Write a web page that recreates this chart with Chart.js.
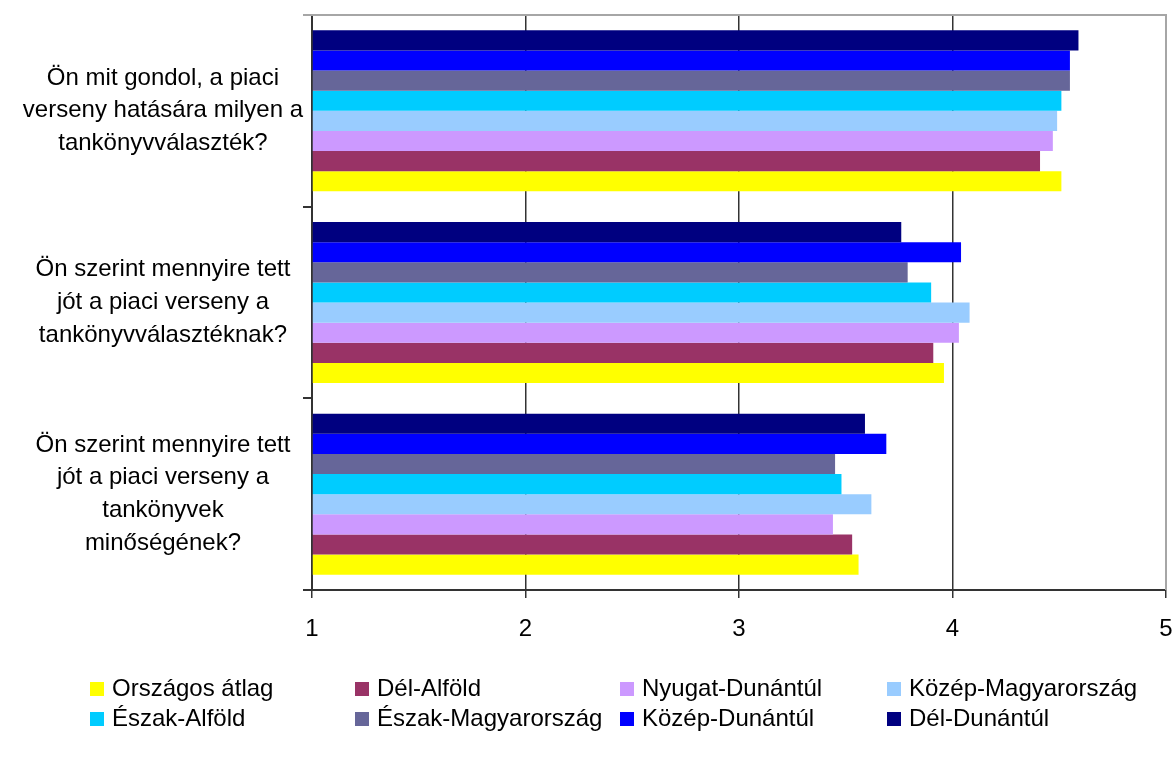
<!DOCTYPE html>
<html>
<head>
<meta charset="utf-8">
<script src="https://cdn.jsdelivr.net/npm/chart.js@4.4.1/dist/chart.umd.min.js"></script>
<style>
  html, body { margin: 0; padding: 0; background: #ffffff; }
  #wrap { position: relative; width: 1176px; height: 762px; overflow: hidden; }
  #chart { position: absolute; left: 0; top: 0; }
  #legend { position: absolute; left: 0; top: 0; width: 1176px; height: 762px; pointer-events: none;
            font-family: 'Liberation Sans', Arial, sans-serif; font-size: 24px; color: #000; }
  .item { position: absolute; white-space: nowrap; line-height: 28px; height: 28px; }
  .sw { position: absolute; width: 14px; height: 14px; top: 8px; left: 0; }
  .tx { position: absolute; left: 22px; top: 0; }
</style>
</head>
<body>
<div id="wrap">
  <canvas id="chart" width="1176" height="762"></canvas>
  <div id="legend"></div>
</div>
<script>
// ---- data ----
const categories = [
  ["Ön mit gondol, a piaci", "verseny hatására milyen a", "tankönyvválaszték?"],
  ["Ön szerint mennyire tett", "jót a piaci verseny a", "tankönyvválasztéknak?"],
  ["Ön szerint mennyire tett", "jót a piaci verseny a", "tankönyvek", "minőségének?"]
];
const delDunantul       = [4.59, 3.76, 3.59];
const kozepDunantul     = [4.55, 4.04, 3.69];
const eszakMagyarorszag = [4.55, 3.79, 3.45];
const eszakAlfold       = [4.51, 3.90, 3.48];
const kozepMagyarorszag = [4.49, 4.08, 3.62];
const nyugatDunantul    = [4.47, 4.03, 3.44];
const delAlfold         = [4.41, 3.91, 3.53];
const orszagosAtlag     = [4.51, 3.96, 3.56];
const xTicks = [1, 2, 3, 4, 5];

// series, listed top-to-bottom within each group
const seriesNames  = ["Dél-Dunántúl", "Közép-Dunántúl", "Észak-Magyarország", "Észak-Alföld",
                      "Közép-Magyarország", "Nyugat-Dunántúl", "Dél-Alföld", "Országos átlag"];
const seriesValues = [delDunantul, kozepDunantul, eszakMagyarorszag, eszakAlfold,
                      kozepMagyarorszag, nyugatDunantul, delAlfold, orszagosAtlag];
const seriesColors = ["#000080", "#0000FF", "#666699", "#00CCFF",
                      "#99CCFF", "#CC99FF", "#993366", "#FFFF00"];

const FONT = "'Liberation Sans', Arial, sans-serif";

const datasets = seriesNames.map((name, i) => ({
  label: name,
  data: seriesValues[i],
  backgroundColor: seriesColors[i],
  borderWidth: 0,
  base: xTicks[0],
  categoryPercentage: 0.84,
  barPercentage: 1.0
}));

const plotFrame = {
  id: 'plotFrame',
  afterDraw(chart) {
    const a = chart.chartArea, c = chart.ctx;
    c.save();
    c.strokeStyle = '#a6a6a6';
    c.lineWidth = 2;
    c.beginPath();
    c.moveTo(a.left - 9, a.top);
    c.lineTo(a.right, a.top);
    c.lineTo(a.right, a.bottom);
    c.stroke();
    c.restore();
  }
};

new Chart(document.getElementById('chart'), {
  type: 'bar',
  data: { labels: categories, datasets: datasets },
  plugins: [plotFrame],
  options: {
    indexAxis: 'y',
    responsive: false,
    animation: false,
    layout: { padding: { top: 15, right: 10, bottom: 0, left: 0 } },
    plugins: { legend: { display: false }, tooltip: { enabled: false } },
    scales: {
      x: {
        type: 'linear',
        min: xTicks[0],
        max: xTicks[xTicks.length - 1],
        afterBuildTicks(scale) { scale.ticks = xTicks.map(v => ({ value: v })); },
        afterFit(scale) { scale.height = 172; scale.paddingLeft = 0; scale.paddingRight = 0; },
        grid: {
          color: ctx => (ctx.tick && ctx.tick.value === xTicks[xTicks.length - 1]) ? '#a6a6a6' : '#333333',
          lineWidth: 1.5,
          tickLength: 8,
          tickColor: '#333333'
        },
        border: { color: '#333333', width: 2 },
        ticks: { color: '#000', font: { family: FONT, size: 24 }, padding: 17, maxRotation: 0 }
      },
      y: {
        type: 'category',
        afterFit(scale) { scale.width = 312; scale.paddingTop = 0; scale.paddingBottom = 0; },
        grid: {
          drawOnChartArea: false,
          offset: true,
          tickLength: 9,
          tickColor: '#333333',
          lineWidth: 2
        },
        border: { color: '#333333', width: 2 },
        ticks: {
          color: '#000',
          font: { family: FONT, size: 24, lineHeight: 1.36 },
          padding: 0,
          crossAlign: 'center',
          autoSkip: false
        }
      }
    }
  }
});

// ---- legend (order as in the reference: reverse of bar order) ----
const legendCols = [90, 355, 620, 887];
const legendRows = [674, 704];
const legendEl = document.getElementById('legend');
const order = seriesNames.map((_, i) => seriesNames.length - 1 - i);
order.forEach((si, k) => {
  const item = document.createElement('div');
  item.className = 'item';
  item.style.left = legendCols[k % 4] + 'px';
  item.style.top = legendRows[Math.floor(k / 4)] + 'px';
  const sw = document.createElement('div');
  sw.className = 'sw';
  sw.style.background = seriesColors[si];
  const tx = document.createElement('span');
  tx.className = 'tx';
  tx.textContent = seriesNames[si];
  item.appendChild(sw); item.appendChild(tx);
  legendEl.appendChild(item);
});
</script>
</body>
</html>
